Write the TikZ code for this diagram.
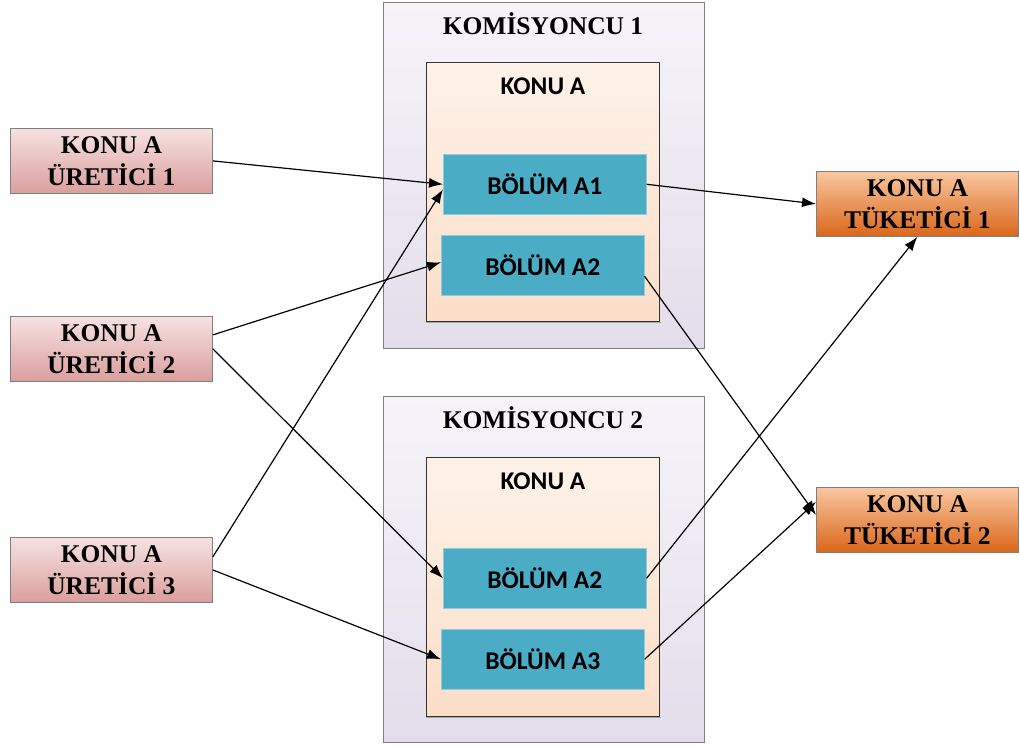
\documentclass[tikz,border=0pt]{standalone}
\usepackage{fontspec}
\setmainfont{Liberation Serif}
\newfontfamily\calib{Carlito}
\usetikzlibrary{arrows.meta,calc}
\definecolor{prodtop}{HTML}{F6E2E2}
\definecolor{prodbot}{HTML}{DA9E9D}
\definecolor{constop}{HTML}{FAC7A0}
\definecolor{consbot}{HTML}{D9661A}
\definecolor{brktop}{HTML}{F6F4F9}
\definecolor{brkmid}{HTML}{D8CEE3}
\definecolor{brkbot}{HTML}{E3DDEB}
\definecolor{topictop}{HTML}{FDF2E9}
\definecolor{topicmid}{HTML}{FAD2B1}
\definecolor{topicbot}{HTML}{FCDEC8}
\definecolor{partfill}{HTML}{4BACC6}
\definecolor{partline}{HTML}{8FCBDB}
\definecolor{boxline}{HTML}{7F7F7F}
\begin{document}
\begin{tikzpicture}[x=1pt,y=-1pt,
  serifbold/.style={font=\fontsize{25.5}{32}\selectfont\bfseries},
  producer/.style={draw=boxline,line width=0.8pt,top color=prodtop,bottom color=prodbot,
    anchor=north west,minimum width=202pt,minimum height=65pt,inner sep=0pt,
    align=center,serifbold},
  consumer/.style={draw=boxline,line width=0.8pt,top color=constop,bottom color=consbot,
    anchor=north west,minimum width=202pt,minimum height=65pt,inner sep=0pt,
    align=center,serifbold},
  broker/.style={draw=boxline,line width=0.8pt,top color=brktop,middle color=brkmid,
    bottom color=brkbot,anchor=north west,minimum width=321pt,minimum height=346pt,inner sep=0pt},
  topicbox/.style={draw=black!80,line width=0.7pt,top color=topictop,middle color=topicmid,
    bottom color=topicbot,anchor=north west,minimum width=233pt,minimum height=259pt,inner sep=0pt},
  partbox/.style={draw=partline,line width=0.6pt,fill=partfill,anchor=north west,
    minimum width=203pt,minimum height=60pt,inner sep=0pt,
    font=\calib\fontsize{25.5}{30}\selectfont\bfseries},
  brokertitle/.style={serifbold,anchor=center},
  topictitle/.style={font=\calib\fontsize{25.5}{30}\selectfont\bfseries,anchor=center},
  flow/.style={line width=1.2pt,-{Latex[length=14pt,width=10pt]}}]
\useasboundingbox (0,0) rectangle (1020,746);
\fill[white] (0,0) rectangle (1020,746);

% brokers with their topic and partitions
\node[broker] (k1) at (383,2) {};
\node[brokertitle] (k1t) at (543,24) {KOMİSYONCU 1};
\node[topicbox] (t1) at (426,62) {};
\draw[black!35,line width=1pt] ([yshift=-1.2pt]t1.south west) -- ([yshift=-1.2pt,xshift=1pt]t1.south east);
\node[topictitle] (t1t) at (543,86) {KONU A};
\node[partbox] (a1) at (443,154) {BÖLÜM A1};
\node[partbox] (b1a2) at (441,235) {BÖLÜM A2};

\node[broker] (k2) at (383,396) {};
\node[brokertitle] (k2t) at (543,418) {KOMİSYONCU 2};
\node[topicbox] (t2) at (426,457) {};
\draw[black!35,line width=1pt] ([yshift=-1.2pt]t2.south west) -- ([yshift=-1.2pt,xshift=1pt]t2.south east);
\node[topictitle] (t2t) at (543,481) {KONU A};
\node[partbox] (b2a2) at (443,548) {BÖLÜM A2};
\node[partbox] (b2a3) at (441,629) {BÖLÜM A3};

% producers
\node[producer] (p1) at (10,128) {KONU A\\ÜRETİCİ 1};
\node[producer] (p2) at (10,316) {KONU A\\ÜRETİCİ 2};
\node[producer] (p3) at (10,537) {KONU A\\ÜRETİCİ 3};

% consumers
\node[consumer] (c1) at (816,171) {KONU A\\TÜKETİCİ 1};
\node[consumer] (c2) at (816,487) {KONU A\\TÜKETİCİ 2};

% producer -> partition
\draw[flow] (p1.east) -- (a1.west);
\draw[flow] ([yshift=14pt]p2.east) -- ([yshift=3pt]b1a2.west);
\draw[flow] (p2.east) -- (b2a2.west);
\draw[flow] ([yshift=13pt]p3.east) -- ([yshift=-5pt]a1.west);
\draw[flow] (p3.east) -- (b2a3.west);

% partition -> consumer
\draw[flow] (a1.east) -- (c1.west);
\draw[flow] ([yshift=-11pt]b1a2.east) -- ([yshift=5pt]c2.west);
\draw[flow] (b2a2.east) -- (c1.south);
\draw[flow] (b2a3.east) -- ([yshift=18pt]c2.west);
\end{tikzpicture}
\end{document}
